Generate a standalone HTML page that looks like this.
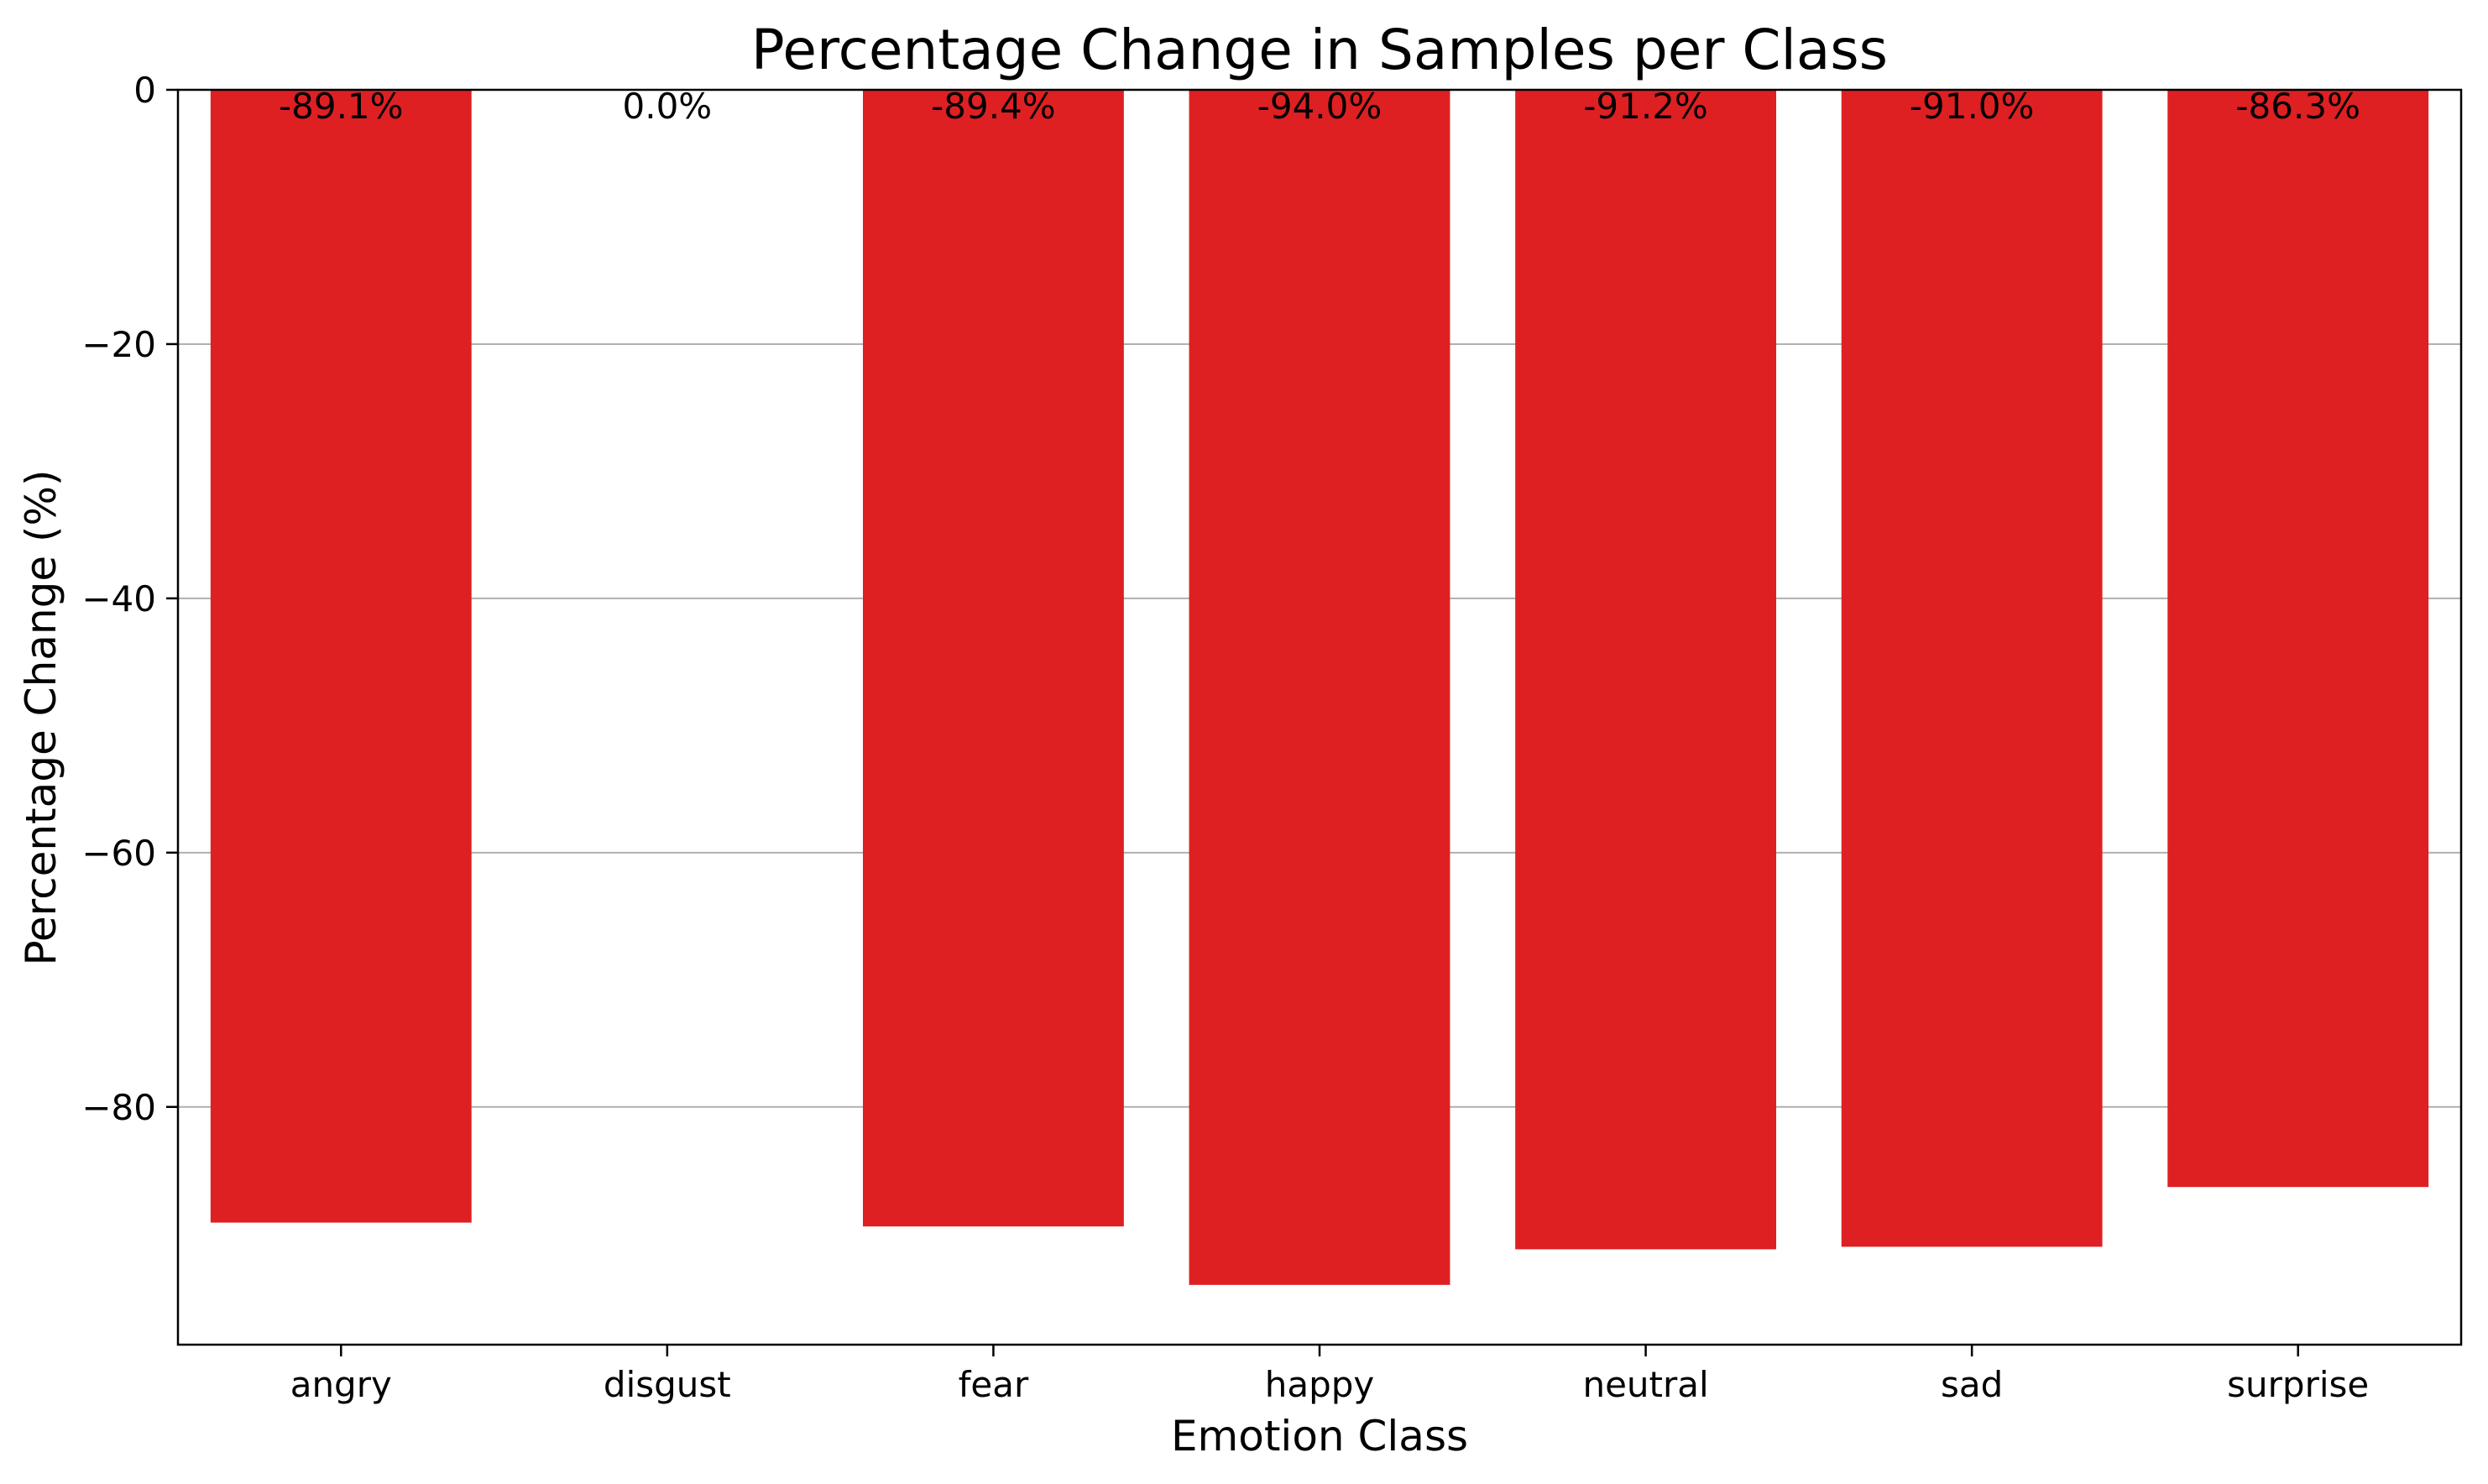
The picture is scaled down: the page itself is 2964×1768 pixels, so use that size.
<!DOCTYPE html>
<html><head><meta charset="utf-8"><style>
html,body{margin:0;padding:0;background:#fff;}
svg{display:block;font-family:"DejaVu Sans","Liberation Sans",sans-serif;}
</style></head><body>
<svg id="chart" width="2964" height="1768" viewBox="0 0 2964 1768">
<text x="1572" y="82" font-size="66" text-anchor="middle">Percentage Change in Samples per Class</text>
<g id="grid"></g><g id="bars"></g><g id="labels"></g><g id="axes"></g>
<text x="1572" y="1728" font-size="50" text-anchor="middle">Emotion Class</text>
<text x="0" y="0" font-size="50" text-anchor="middle" transform="translate(66,855) rotate(-90)">Percentage Change (%)</text>
</svg>
<script>
const categories = ["angry","disgust","fear","happy","neutral","sad","surprise"];
const values = [-89.1, 0.0, -89.4, -94.0, -91.2, -91.0, -86.3];
const valueLabels = ["-89.1%","0.0%","-89.4%","-94.0%","-91.2%","-91.0%","-86.3%"];
const yTicks = [0,-20,-40,-60,-80];
const yTickLabels = ["0","\u221220","\u221240","\u221260","\u221280"];

const NS = "http://www.w3.org/2000/svg";
const L = 212, R = 2932, T = 107, B = 1602;
const xMin = -0.5, xMax = categories.length - 0.5, yMax = 0, yMin = -98.7;
function xs(i){ return L + (i - xMin) / (xMax - xMin) * (R - L); }
function ys(v){ return T + (yMax - v) / (yMax - yMin) * (B - T); }
function mk(tag, attrs, parent){ const e = document.createElementNS(NS, tag); for (const k in attrs) e.setAttribute(k, attrs[k]); parent.appendChild(e); return e; }

const grid = document.getElementById('grid'), barsG = document.getElementById('bars'), labG = document.getElementById('labels'), axes = document.getElementById('axes');
const bw = 0.8 * (xs(1) - xs(0));

yTicks.forEach((t, i) => {
  const y = ys(t);
  const g = mk('line', {x1: L, x2: R, y1: y, y2: y, stroke: '#b0b0b0', 'stroke-width': 2}, grid);
  
  
  const tk = mk('line', {x1: L - 14, x2: L, y1: y, y2: y, stroke: '#000', 'stroke-width': 2.5}, axes);
  
  
  const tx = mk('text', {x: L - 26, y: y + 15, 'font-size': 42, 'text-anchor': 'end'}, axes);
  tx.textContent = yTickLabels[i];
  
  
});

categories.forEach((c, i) => {
  const cx = xs(i);
  const y0 = ys(0), y1 = ys(values[i]);
  const r = mk('rect', {x: cx - bw/2, y: Math.min(y0, y1), width: bw, height: Math.abs(y1 - y0), fill: '#de2023'}, barsG);
  
  
  const lt = mk('text', {x: cx, y: ys(0) + 34, 'font-size': 42, 'text-anchor': 'middle'}, labG);
  lt.textContent = valueLabels[i];
  
  
  const tk = mk('line', {x1: cx, x2: cx, y1: B, y2: B + 14, stroke: '#000', 'stroke-width': 2.5}, axes);
  
  
  const tx = mk('text', {x: cx, y: 1664, 'font-size': 42, 'text-anchor': 'middle'}, axes);
  tx.textContent = c;
  
  
});

const frame = mk('rect', {x: L, y: T, width: R - L, height: B - T, fill: 'none', stroke: '#000', 'stroke-width': 2.5}, axes);


</script>
</body></html>
